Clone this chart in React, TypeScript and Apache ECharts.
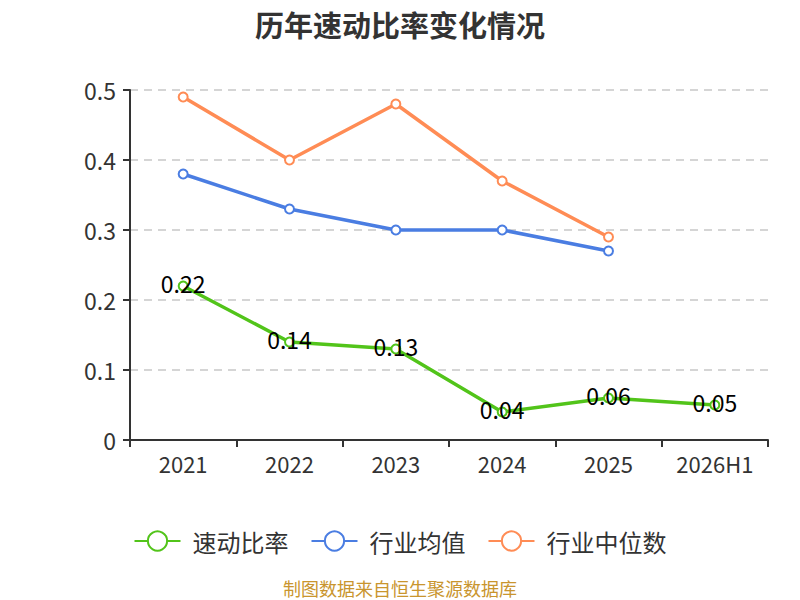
import React, { useEffect, useRef } from "react";
import * as echarts from "echarts";

const categories = ["2021", "2022", "2023", "2024", "2025", "2026H1"];
const quickRatio = [0.22, 0.14, 0.13, 0.04, 0.06, 0.05];
const industryAvg = [0.38, 0.33, 0.3, 0.3, 0.27];
const industryMedian = [0.49, 0.4, 0.48, 0.37, 0.29];
const seriesNames = ["速动比率", "行业均值", "行业中位数"];
const yTicks = { min: 0, max: 0.5, interval: 0.1 };

const FONT = "'Noto Sans CJK SC', 'Noto Sans', sans-serif";

export default function App() {
  const ref = useRef<HTMLDivElement>(null);
  useEffect(() => {
    document.body.style.margin = "0";
    if (!ref.current) return;
    const chart = echarts.init(ref.current, undefined, { renderer: "svg" });
    const colors = ["#52c41a", "#4a7de2", "#ff8c55"];
    chart.setOption({
      animation: false,
      textStyle: { fontFamily: FONT },
      title: {
        text: "历年速动比率变化情况",
        left: "center",
        top: 4,
        textStyle: { fontSize: 29, fontWeight: "bold", color: "#333", fontFamily: FONT },
      },
      legend: {
        top: 524,
        left: "center",
        itemWidth: 46,
        itemHeight: 24,
        itemGap: 22,
        textStyle: { fontSize: 24, color: "#333", fontFamily: FONT, padding: [0, 0, 0, 7] },
        data: seriesNames,
      },
      graphic: [
        {
          type: "text",
          left: "center",
          top: 579,
          style: { text: "制图数据来自恒生聚源数据库", fill: "#c9952e", fontSize: 18, fontFamily: FONT },
        },
      ],
      grid: { left: 130, right: 32, top: 90, bottom: 160 },
      xAxis: {
        type: "category",
        data: categories,
        boundaryGap: true,
        axisLine: { lineStyle: { color: "#333", width: 2 } },
        axisTick: { show: true, length: 7, lineStyle: { color: "#333", width: 2 } },
        axisLabel: { fontSize: 22, color: "#333", margin: 12, fontFamily: FONT, interval: 0 },
      },
      yAxis: {
        type: "value",
        min: yTicks.min,
        max: yTicks.max,
        interval: yTicks.interval,
        axisLine: { show: true, lineStyle: { color: "#333", width: 2 } },
        axisTick: { show: true, length: 7, lineStyle: { color: "#333", width: 2 } },
        axisLabel: { fontSize: 23, color: "#333", margin: 14, fontFamily: FONT },
        splitLine: { lineStyle: { color: "#c8c8c8", type: [8, 6], width: 1.5 } },
      },
      series: [
        {
          name: seriesNames[0],
          type: "line",
          data: quickRatio,
          color: colors[0],
          symbol: "emptyCircle",
          symbolSize: 9,
          lineStyle: { width: 3.5 },
          label: {
            show: true,
            position: "inside",
            offset: [0, -3],
            fontSize: 23,
            color: "#000",
            fontFamily: FONT,
          },
        },
        {
          name: seriesNames[1],
          type: "line",
          data: industryAvg,
          color: colors[1],
          symbol: "emptyCircle",
          symbolSize: 9,
          lineStyle: { width: 3.5 },
        },
        {
          name: seriesNames[2],
          type: "line",
          data: industryMedian,
          color: colors[2],
          symbol: "emptyCircle",
          symbolSize: 9,
          lineStyle: { width: 3.5 },
        },
      ],
    });
    return () => chart.dispose();
  }, []);
  return <div ref={ref} style={{ width: 800, height: 600 }} />;
}
